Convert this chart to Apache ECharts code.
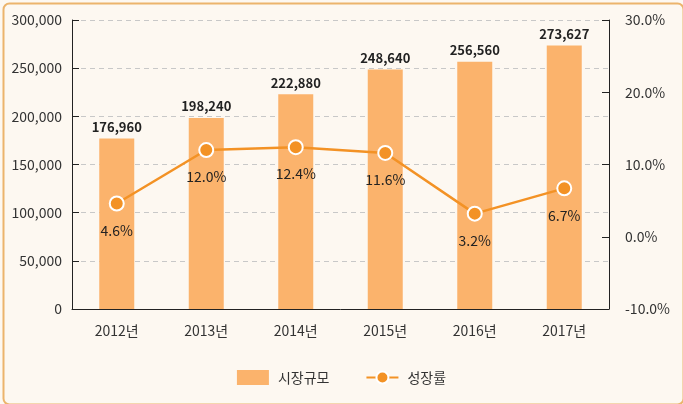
<!DOCTYPE html>
<html><head><meta charset="utf-8">
<script src="https://cdn.jsdelivr.net/npm/echarts@6/dist/echarts.min.js"></script>
<style>html,body{margin:0;padding:0;background:#fff;}#c{width:683px;height:404px;}</style>
</head><body><div id="c"></div>
<script>
var categories = ['2012년','2013년','2014년','2015년','2016년','2017년'];
var marketSize = [176960,198240,222880,248640,256560,273627];
var growthRate = [4.6,12.0,12.4,11.6,3.2,6.7];
var leftTicks = [0,300000,50000];
var rightTicks = [-10,30,10];
var font = "'Noto Sans CJK KR', 'Noto Sans', sans-serif";
var chart = echarts.init(document.getElementById('c'));
chart.setOption({
  backgroundColor: '#fdf8f1',
  textStyle: {fontFamily: font},
  graphic: [{type:'rect', left:1, top:1, shape:{width:680, height:401, r:6}, style:{fill:'none', stroke:'#ecb46c', lineWidth:2}, silent:true}],
  grid: {left:72, right:74, top:20, bottom:95},
  legend: {
    bottom: 14, left: 'center', itemGap: 36, itemWidth: 32, itemHeight: 15,
    textStyle: {fontFamily: font, fontSize: 14, color: '#333', padding: [0,0,0,4]},
    data: [{name:'시장규모', icon:'rect'}, {name:'성장률'}]
  },
  xAxis: {
    type: 'category', data: categories,
    axisLine: {lineStyle: {color: '#222', width: 1}},
    axisTick: {inside: true, length: 5, lineStyle: {color: '#222'}},
    axisLabel: {color: '#333', fontSize: 14, margin: 15, fontFamily: font}
  },
  yAxis: [{
    type: 'value', min: leftTicks[0], max: leftTicks[1], interval: leftTicks[2],
    axisLine: {show: true, lineStyle: {color: '#222'}},
    axisTick: {show: true, inside: true, length: 7, lineStyle: {color: '#222'}},
    axisLabel: {color: '#333', fontSize: 14, margin: 10, fontFamily: font,
      formatter: function(v){ return v.toLocaleString('en-US'); }},
    splitLine: {lineStyle: {color: '#c8c8c8', type: [5,4]}}
  }, {
    type: 'value', min: rightTicks[0], max: rightTicks[1], interval: rightTicks[2],
    axisLine: {show: true, lineStyle: {color: '#222'}},
    axisTick: {show: true, inside: true, length: 7, lineStyle: {color: '#222'}},
    axisLabel: {color: '#333', fontSize: 14, margin: 16, fontFamily: font,
      formatter: function(v){ return v.toFixed(1) + '%'; }},
    splitLine: {show: false}
  }],
  series: [{
    name: '시장규모', type: 'bar', data: marketSize, barWidth: 35,
    itemStyle: {color: '#fbb36c'},
    label: {show: true, position: 'top', distance: 5, color: '#222', fontWeight: 'bold', fontSize: 13, fontFamily: font,
      formatter: function(p){ return p.value.toLocaleString('en-US'); }}
  }, {
    name: '성장률', type: 'line', yAxisIndex: 1, data: growthRate,
    symbol: 'circle', symbolSize: 14,
    lineStyle: {color: '#f39225', width: 2.5},
    itemStyle: {color: '#f39225', borderColor: '#fff', borderWidth: 2},
    label: {show: true, position: 'bottom', distance: 12, color: '#222', fontSize: 14, fontFamily: font,
      formatter: function(p){ return p.value.toFixed(1) + '%'; }}
  }]
});
</script></body></html>
